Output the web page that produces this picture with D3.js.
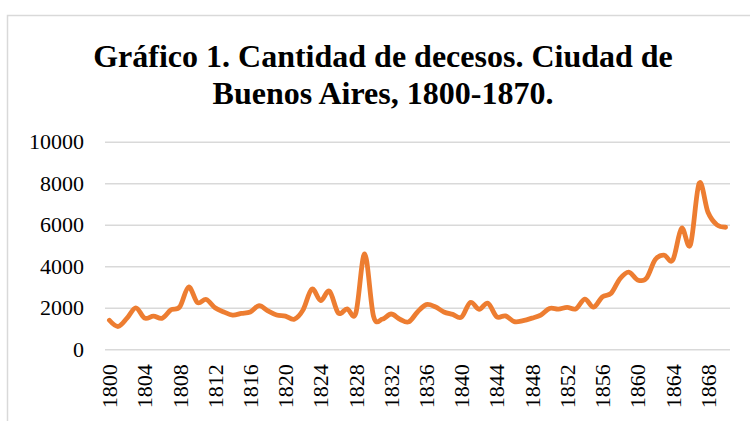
<!DOCTYPE html>
<html>
<head>
<meta charset="utf-8">
<script src="https://cdn.jsdelivr.net/npm/d3@7"></script>
<style>
  body { margin: 0; background: #fff; }
  svg { display: block; }
</style>
</head>
<body>
<svg id="chart" width="750" height="421"></svg>
<script>
// deaths per year, Buenos Aires 1800-1870
var years = d3.range(1800, 1871);
var deaths = [1400, 1100, 1500, 2000, 1500, 1600, 1500, 1900, 2050, 3000,
              2250, 2400, 2000, 1800, 1650, 1730, 1800, 2100, 1850, 1650,
              1600, 1450, 1900, 2900, 2350, 2800, 1750, 1950, 1750, 4600,
              1600, 1450, 1700, 1450, 1320, 1800, 2150, 2050, 1800, 1680,
              1550, 2260, 1930, 2220, 1570, 1610, 1330, 1380, 1500, 1650,
              1970, 1940, 2020, 1950, 2420, 2030, 2530, 2700, 3400, 3720,
              3340, 3420, 4320, 4540, 4300, 5830, 5030, 8000, 6600, 6000,
              5880];
var yTicks = [0, 2000, 4000, 6000, 8000, 10000];
var xTickYears = [1800, 1804, 1808, 1812, 1816, 1820, 1824, 1828, 1832, 1836,
                  1840, 1844, 1848, 1852, 1856, 1860, 1864, 1868];
var titleLines = ["Gráfico 1. Cantidad de decesos. Ciudad de", "Buenos Aires, 1800-1870."];

var data = years.map(function(y, i){ return {year: y, value: deaths[i]}; });

var svg = d3.select("#chart");
var plotL = 105, plotR = 730, plotT = 141.7, plotB = 349.3;
var serif = "'Liberation Serif', 'Times New Roman', serif";

// outer chart frame (runs off the page right and bottom)
svg.append("rect")
  .attr("x", 7.5).attr("y", 15.5)
  .attr("width", 760).attr("height", 430)
  .attr("fill", "#fff")
  .attr("stroke", "#d9d9d9")
  .attr("stroke-width", 1.5);

var x = d3.scalePoint().domain(years).range([plotL, plotR]).padding(0.5);
var y = d3.scaleLinear().domain([0, 10000]).range([plotB, plotT]);

// gridlines + y labels
var yAxis = d3.axisLeft(y).tickValues(yTicks).tickFormat(d3.format("d"))
  .tickSize(-(plotR - plotL)).tickPadding(21);
var gy = svg.append("g").attr("transform", "translate(" + plotL + ",0)").call(yAxis);
gy.select(".domain").remove();
gy.selectAll(".tick line").attr("stroke", "#d9d9d9").attr("stroke-width", 1.5);
gy.selectAll(".tick text")
  .attr("font-family", serif).attr("font-size", 22).attr("fill", "#000");

// x labels
var xAxis = d3.axisBottom(x).tickValues(xTickYears).tickSize(0).tickPadding(0);
var gx = svg.append("g").attr("transform", "translate(0," + plotB + ")").call(xAxis);
gx.select(".domain").remove();
gx.selectAll(".tick text")
  .attr("font-family", serif).attr("font-size", 22).attr("fill", "#000")
  .attr("text-anchor", "end")
  .attr("dy", "0.33em")
  .attr("transform", "translate(0,15) rotate(-90)");

// the line
var line = d3.line()
  .x(function(d){ return x(d.year); })
  .y(function(d){ return y(d.value); })
  .curve(d3.curveCatmullRom.alpha(0));

svg.append("path")
  .datum(data)
  .attr("d", line)
  .attr("fill", "none")
  .attr("stroke", "#ED7D31")
  .attr("stroke-width", 4.8)
  .attr("stroke-linecap", "round")
  .attr("stroke-linejoin", "round");

// title
svg.append("g").selectAll("text")
  .data(titleLines)
  .join("text")
  .attr("x", 383)
  .attr("y", function(d, i){ return 67 + i * 37; })
  .attr("text-anchor", "middle")
  .attr("font-family", serif)
  .attr("font-weight", "bold")
  .attr("font-size", 32)
  .text(function(d){ return d; });
</script>
</body>
</html>
